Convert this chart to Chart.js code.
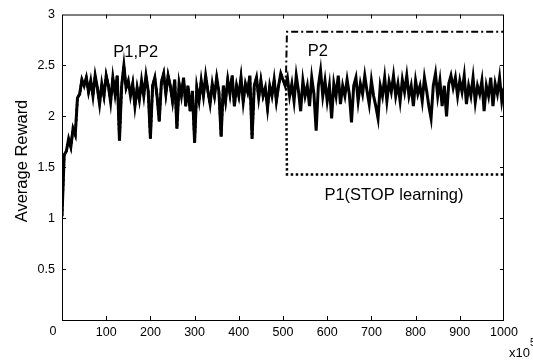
<!DOCTYPE html>
<html>
<head>
<meta charset="utf-8">
<script src="https://cdn.jsdelivr.net/npm/chart.js@4.4.0/dist/chart.umd.min.js"></script>
<style>
  html, body { margin: 0; padding: 0; background: #fff; }
  #wrap { width: 533px; height: 360px; }
</style>
</head>
<body>
<div id="wrap"><canvas id="rewardChart" width="533" height="360"></canvas></div>
<script>
// --- Data ---
const STEP = 5; // x spacing of the learning curve samples (x10^5 steps)
const bothLearning = [
  1.02, 1.62, 1.66, 1.78, 1.70, 1.88, 1.82, 2.18, 2.22, 2.36,
  2.30, 2.38, 2.24, 2.35, 2.20, 2.40, 2.28, 2.12, 2.32, 2.20,
  2.40, 2.30, 2.14, 2.38, 2.22, 2.40, 1.76, 2.30, 2.50, 2.28,
  2.35, 2.20, 2.32, 2.10, 2.28, 2.16, 2.35, 2.20, 2.40, 2.25,
  1.78, 2.30, 2.38, 2.20, 1.95, 2.34, 2.42, 2.22, 2.40, 2.30,
  2.15, 2.36, 1.88, 2.32, 2.20, 2.38, 2.10, 2.30, 2.05, 2.25,
  1.74, 2.28, 2.15, 2.35, 2.20, 2.40, 2.25, 2.12, 2.32, 2.20,
  2.38, 2.24, 1.80, 2.30, 2.15, 2.36, 2.22, 2.40, 2.10, 2.30,
  2.20, 2.38, 2.14, 2.32, 2.24, 2.40, 1.78, 2.30, 2.38, 2.18,
  2.35, 2.20, 2.28, 2.08, 2.30, 2.20, 2.36, 2.15, 2.30, 2.42,
  2.36, 2.30, 2.38, 2.20, 2.32, 2.15, 2.40, 2.25, 2.05, 2.35,
  2.20, 2.30, 2.10, 2.38, 2.22, 1.86, 2.30, 2.45, 2.20, 2.35,
  2.15, 2.30, 1.98, 2.32, 2.20, 2.40, 2.12, 2.30, 2.20, 2.36,
  2.22, 1.94, 2.30, 2.38, 2.15, 2.32, 2.22, 2.40, 2.25, 2.12,
  2.35, 2.20, 2.10, 1.98, 2.30, 2.20, 2.38, 2.15, 2.34, 2.24,
  2.40, 2.20, 2.32, 2.15, 2.36, 2.24, 2.40, 2.20, 2.30, 2.10,
  2.35, 2.22, 2.30, 2.15, 2.38, 2.25, 2.10, 1.98, 2.30, 2.42,
  2.20, 2.35, 2.10, 2.30, 2.00, 2.32, 2.40, 2.28, 2.38, 2.20,
  2.35, 2.24, 2.40, 2.12, 2.30, 2.20, 2.38, 2.14, 2.30, 2.22,
  2.35, 2.05, 2.30, 2.20, 2.38, 2.10, 2.32, 2.22, 2.38, 2.15,
  2.28
];

// after learning is stopped for P1 (x = 507)
const switchX = [505, 507, 509];
const p2After = [2.30, 2.45, 2.83];   // P2 keeps learning
const p1After = [2.30, 2.30, 1.43];   // P1 stops learning
const p2Level = 2.83;
const p1Level = 1.43;
const xEnd = 1000;

const xTicks = [0, 100, 200, 300, 400, 500, 600, 700, 800, 900, 1000];
const yTicks = [0, 0.5, 1, 1.5, 2, 2.5, 3];

const labels = [
  { text: 'P1,P2', x: 167, y: 2.58 },
  { text: 'P2', x: 579, y: 2.59 },
  { text: 'P1(STOP learning)', x: 751, y: 1.18 }
];

// --- Build point lists ---
const learnPts = bothLearning.map((v, i) => ({ x: i * STEP, y: v }));
const earlyPts = learnPts.filter(p => p.x < switchX[0]);
const p2Pts = earlyPts.concat(switchX.map((x, i) => ({ x: x, y: p2After[i] })), [{ x: xEnd, y: p2Level }]);
const p1Pts = earlyPts.concat(switchX.map((x, i) => ({ x: x, y: p1After[i] })), [{ x: xEnd, y: p1Level }]);

const FONT = "'Liberation Sans', Arial, sans-serif";

// frame, inward ticks, texts (MATLAB look)
const matlabAxes = {
  id: 'matlabAxes',
  afterDraw(chart) {
    const { ctx, chartArea: a, scales } = chart;
    const xs = scales.x, ys = scales.y;
    ctx.save();
    ctx.strokeStyle = '#000';
    ctx.lineWidth = 1;
    ctx.strokeRect(a.left + 0.5, a.top + 0.5, a.right - a.left - 1, a.bottom - a.top);
    ctx.beginPath();
    yTicks.slice(1, -1).forEach(v => {
      const y = Math.round(ys.getPixelForValue(v)) + 0.5;
      ctx.moveTo(a.left, y); ctx.lineTo(a.left + 4, y);
      ctx.moveTo(a.right, y); ctx.lineTo(a.right - 4, y);
    });
    xTicks.slice(1, -1).forEach(v => {
      const x = Math.round(xs.getPixelForValue(v)) + 0.5;
      ctx.moveTo(x, a.bottom); ctx.lineTo(x, a.bottom - 4);
      ctx.moveTo(x, a.top); ctx.lineTo(x, a.top + 4);
    });
    ctx.stroke();

    ctx.fillStyle = '#000';
    // shared origin label
    ctx.font = '12.5px ' + FONT;
    ctx.textAlign = 'center';
    ctx.textBaseline = 'middle';
    ctx.fillText('0', a.left - 9, a.bottom + 12);

    // curve labels
    ctx.font = '16.5px ' + FONT;
    ctx.textBaseline = 'alphabetic';
    labels.forEach(l => ctx.fillText(l.text, xs.getPixelForValue(l.x), ys.getPixelForValue(l.y)));

    // exponent
    ctx.font = '13px ' + FONT;
    ctx.textAlign = 'left';
    ctx.fillText('x10', 509, 357);
    ctx.font = '10px ' + FONT;
    ctx.fillText('5', 530, 346);

    // y title
    ctx.font = '16.5px ' + FONT;
    ctx.textAlign = 'center';
    ctx.textBaseline = 'middle';
    ctx.translate(22, 161);
    ctx.rotate(-Math.PI / 2);
    ctx.fillText('Average Reward', 0, 0);
    ctx.restore();
  }
};

Chart.defaults.font.family = FONT;
Chart.defaults.color = '#000';

new Chart(document.getElementById('rewardChart'), {
  type: 'line',
  data: {
    datasets: [
      {
        label: 'P1,P2',
        data: learnPts,
        borderColor: '#000',
        borderWidth: 3,
        pointRadius: 0,
        tension: 0
      },
      {
        label: 'P2',
        data: p2Pts,
        borderColor: '#000',
        borderWidth: 2,
        borderDash: [7, 3, 2, 3],
        pointRadius: 0,
        tension: 0
      },
      {
        label: 'P1(STOP learning)',
        data: p1Pts,
        borderColor: '#000',
        borderWidth: 2.5,
        borderDash: [2.5, 2.5],
        pointRadius: 0,
        tension: 0
      }
    ]
  },
  options: {
    responsive: false,
    animation: false,
    layout: { padding: { top: 14, right: 29, left: 0, bottom: 0 } },
    plugins: { legend: { display: false }, tooltip: { enabled: false } },
    scales: {
      x: {
        type: 'linear',
        min: 0,
        max: 1000,
        afterBuildTicks: s => { s.ticks = xTicks.map(v => ({ value: v })); },
        afterFit: s => { s.height = 40; },
        grid: { display: false, drawTicks: false },
        border: { display: false },
        ticks: {
          padding: 5,
          maxRotation: 0,
          font: { size: 12.5 },
          callback: v => (v === 0 ? '' : String(v))
        }
      },
      y: {
        min: 0,
        max: 3,
        afterBuildTicks: s => { s.ticks = yTicks.map(v => ({ value: v })); },
        afterFit: s => { s.width = 62; },
        grid: { display: false, drawTicks: false },
        border: { display: false },
        ticks: {
          padding: 7,
          font: { size: 12.5 },
          callback: v => (v === 0 ? '' : String(v))
        }
      }
    }
  },
  plugins: [matlabAxes]
});
</script>
</body>
</html>
